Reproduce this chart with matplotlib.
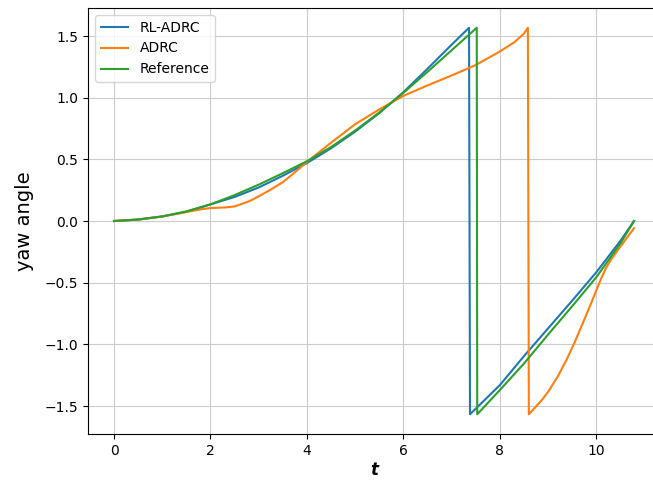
import matplotlib
matplotlib.use("Agg")
import matplotlib.pyplot as plt

# RL-ADRC (blue): first branch up to the wrap, second branch after it
t_rl = [0.0, 0.5, 1.0, 1.5, 2.0, 2.5, 3.0, 3.5, 4.0, 4.5, 5.0, 5.5, 6.0, 6.5, 7.0, 7.36,
        7.38, 8.0, 8.5, 9.0, 9.5, 10.0, 10.5, 10.78]
y_rl = [0.0, 0.012, 0.037, 0.075, 0.135, 0.195, 0.272, 0.367, 0.47, 0.59, 0.725, 0.875, 1.045, 1.235, 1.43, 1.567,
        -1.567, -1.33, -1.095, -0.87, -0.645, -0.415, -0.16, 0.0]

# ADRC (orange)
t_adrc = [0.0, 0.5, 1.0, 1.5, 1.8, 2.0, 2.3, 2.5, 2.8, 3.0, 3.25, 3.5, 3.75, 4.0, 4.5, 5.0, 5.5, 6.0, 6.5, 7.0,
          7.5, 8.0, 8.3, 8.5, 8.58,
          8.60, 8.86, 9.0, 9.21, 9.4, 9.55, 9.7, 9.9, 10.0, 10.1, 10.2, 10.3, 10.4, 10.59, 10.78]
y_adrc = [0.0, 0.012, 0.037, 0.072, 0.095, 0.105, 0.11, 0.118, 0.16, 0.20, 0.255, 0.315, 0.395, 0.48, 0.635, 0.785, 0.905, 1.015, 1.10, 1.18,
          1.265, 1.375, 1.45, 1.52, 1.567,
          -1.567, -1.456, -1.385, -1.253, -1.11, -0.983, -0.845, -0.658, -0.56, -0.465, -0.38, -0.315, -0.26, -0.158, -0.058]

# Reference (green)
t_ref = [0.0, 0.5, 1.0, 1.5, 2.0, 2.5, 3.0, 3.5, 4.0, 4.5, 5.0, 5.5, 6.0, 6.5, 7.0, 7.52,
         7.53, 8.0, 8.5, 9.0, 9.5, 10.0, 10.5, 10.78]
y_ref = [0.0, 0.012, 0.037, 0.078, 0.135, 0.21, 0.295, 0.388, 0.485, 0.60, 0.734, 0.88, 1.04, 1.21, 1.385, 1.567,
         -1.567, -1.37, -1.155, -0.92, -0.69, -0.455, -0.18, 0.0]

fig = plt.figure(figsize=(6.53, 4.8), dpi=100)
ax = fig.add_axes([0.1348, 0.0958, 0.876, 0.8875])

ax.plot(t_rl, y_rl, label='RL-ADRC')
ax.plot(t_adrc, y_adrc, label='ADRC')
ax.plot(t_ref, y_ref, label='Reference')

ax.set_xlim(-0.539, 11.32)
ax.set_ylim(-1.727, 1.727)
ax.set_xticks([0, 2, 4, 6, 8, 10])
ax.set_yticks([-1.5, -1.0, -0.5, 0.0, 0.5, 1.0, 1.5])
ax.grid(True, color='#cccccc')
ax.set_xlabel('t', fontsize=12, fontstyle='italic', fontweight='bold', labelpad=2)
ax.set_ylabel('yaw angle', fontsize=14, labelpad=8)
ax.legend(loc='upper left')

fig.savefig('out.png', dpi=100)
